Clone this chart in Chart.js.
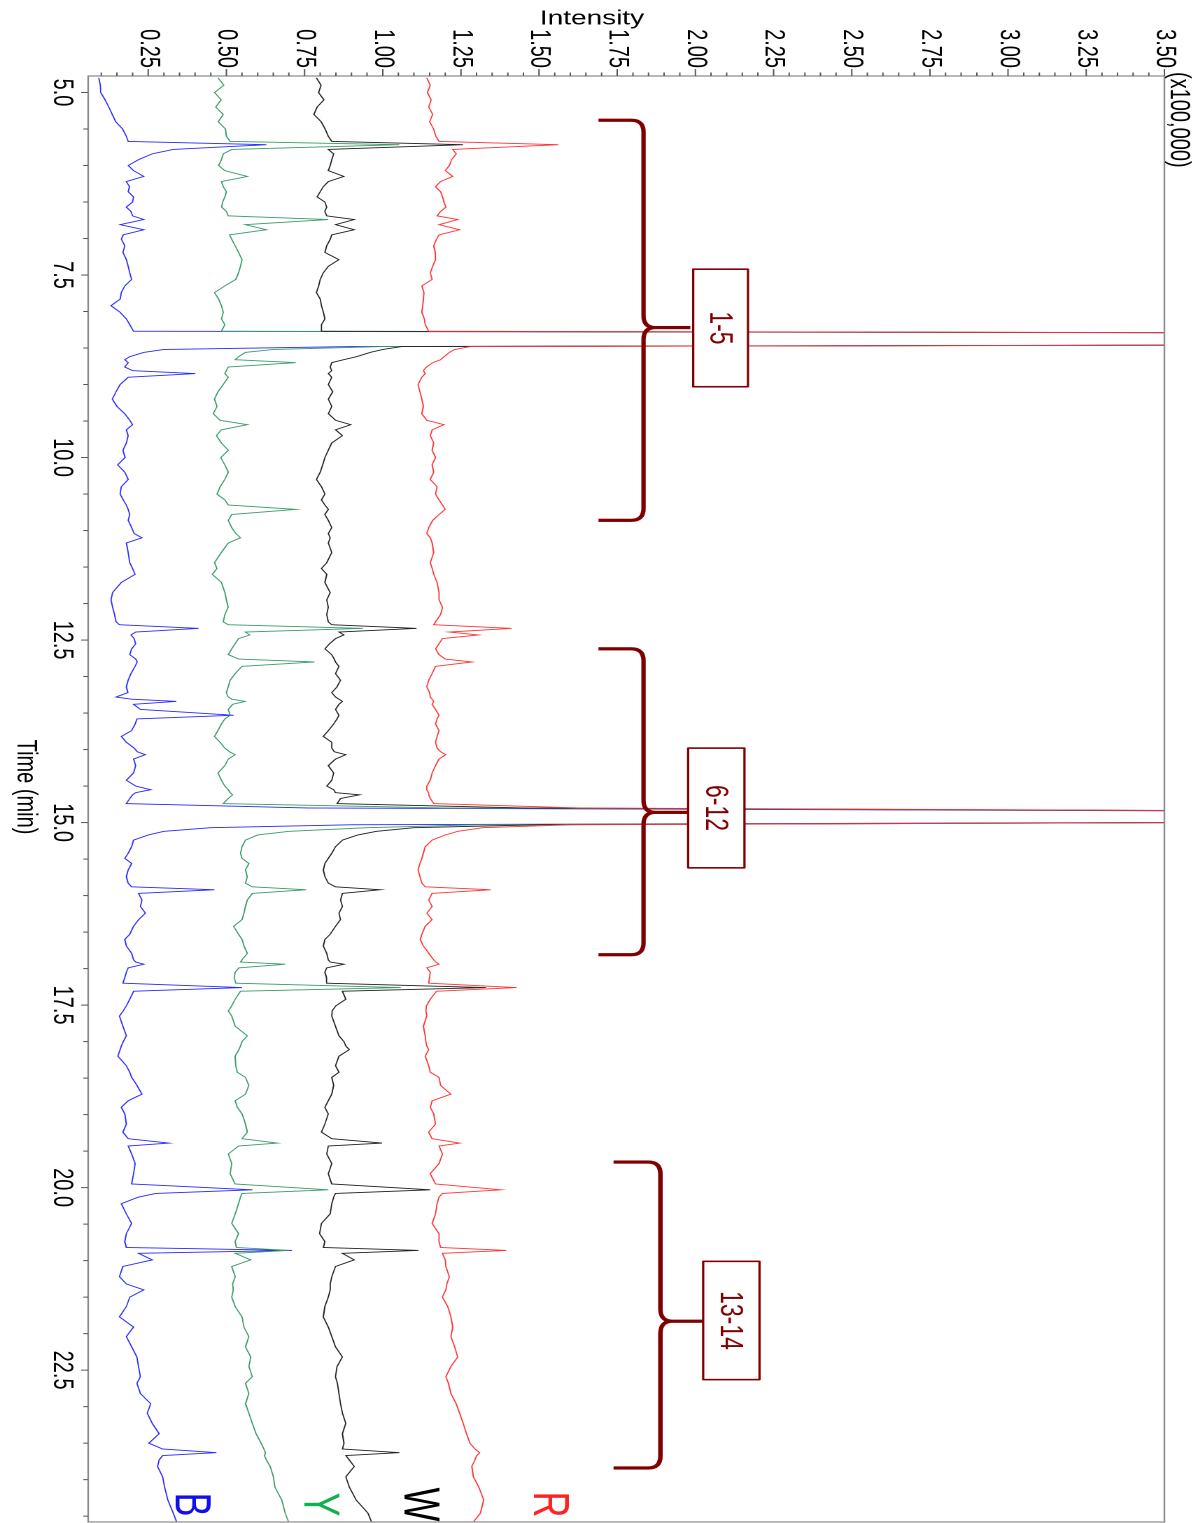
<!DOCTYPE html>
<html>
<head>
<meta charset="utf-8">
<script src="https://cdn.jsdelivr.net/npm/chart.js@4.4.0/dist/chart.umd.min.js"></script>
<style>
  html, body { margin: 0; padding: 0; background: #fff; overflow: hidden; }
  /* the chart is drawn landscape and then turned a quarter clockwise, stretched across */
  #wrap {
    position: absolute; left: 0; top: 0;
    width: 1523px; height: 856px;
    transform-origin: 0 0;
    transform: translate(1198px, 0) rotate(90deg) scale(1, 1.3995);
  }
</style>
</head>
<body>
<div id="wrap"><canvas id="chart" width="1523" height="856"></canvas></div>
<script>
// retention time (min)
const timeMin = [
  4.80, 4.90, 5.00, 5.10, 5.20, 5.30, 5.40, 5.50, 5.60, 5.67, 5.715, 5.78,
  5.84, 5.92, 6.00, 6.07, 6.15, 6.22, 6.29, 6.36, 6.43, 6.50, 6.57, 6.63,
  6.69, 6.74, 6.81, 6.88, 6.95, 7.01, 7.10, 7.19, 7.29, 7.38, 7.47, 7.56,
  7.65, 7.74, 7.83, 7.92, 8.01, 8.10, 8.18, 8.27, 8.30, 8.45, 8.48, 8.52,
  8.56, 8.62, 8.66, 8.70, 8.76, 8.81, 8.85, 8.90, 9.00, 9.10, 9.20, 9.30,
  9.40, 9.49, 9.55, 9.62, 9.70, 9.80, 9.90, 10.00, 10.10, 10.20, 10.30, 10.40,
  10.50, 10.58, 10.65, 10.71, 10.78, 10.86, 10.96, 11.04, 11.10, 11.17, 11.30, 11.44,
  11.52, 11.60, 11.71, 11.85, 11.95, 12.05, 12.15, 12.25, 12.29, 12.34, 12.39, 12.43,
  12.48, 12.55, 12.62, 12.70, 12.76, 12.80, 12.86, 12.96, 13.05, 13.14, 13.22, 13.28,
  13.31, 13.34, 13.38, 13.45, 13.53, 13.58, 13.65, 13.74, 13.82, 13.90, 13.98, 14.03,
  14.07, 14.13, 14.22, 14.32, 14.42, 14.50, 14.55, 14.59, 14.62, 14.67, 14.74, 14.80,
  14.86, 14.98, 15.03, 15.07, 15.12, 15.17, 15.24, 15.33, 15.42, 15.49, 15.56, 15.65,
  15.74, 15.83, 15.88, 15.92, 15.97, 16.06, 16.15, 16.24, 16.33, 16.42, 16.53, 16.60,
  16.69, 16.79, 16.88, 16.91, 16.94, 16.99, 17.05, 17.12, 17.20, 17.26, 17.31, 17.42,
  17.51, 17.58, 17.65, 17.79, 17.92, 18.00, 18.06, 18.11, 18.20, 18.33, 18.42, 18.49,
  18.60, 18.72, 18.81, 18.90, 18.99, 19.13, 19.24, 19.33, 19.39, 19.43, 19.54, 19.67,
  19.81, 19.95, 20.03, 20.08, 20.13, 20.22, 20.36, 20.49, 20.63, 20.74, 20.82, 20.86,
  20.90, 20.99, 21.08, 21.22, 21.32, 21.40, 21.50, 21.63, 21.77, 21.91, 22.04, 22.18,
  22.32, 22.45, 22.59, 22.68, 22.82, 22.96, 23.09, 23.23, 23.37, 23.50, 23.58, 23.63,
  23.67, 23.73, 23.82, 23.96, 24.10, 24.28, 24.46, 24.58
];

// intensity (x100,000) for each trace; 5 = off scale
const seriesR = [
  1.141, 1.152, 1.143, 1.155, 1.147, 1.160, 1.150, 1.163, 1.170, 1.180, 1.561, 1.224,
  1.235, 1.220, 1.213, 1.200, 1.224, 1.185, 1.169, 1.185, 1.191, 1.196, 1.202, 1.185,
  1.174, 1.240, 1.180, 1.246, 1.180, 1.172, 1.163, 1.168, 1.169, 1.160, 1.152, 1.158,
  1.125, 1.132, 1.130, 1.128, 1.125, 1.133, 1.136, 1.147, 5, 5, 1.280, 1.230,
  1.213, 1.196, 1.185, 1.160, 1.140, 1.130, 1.136, 1.125, 1.113, 1.119, 1.125, 1.130,
  1.125, 1.141, 1.196, 1.158, 1.152, 1.163, 1.158, 1.169, 1.158, 1.163, 1.152, 1.174,
  1.169, 1.180, 1.191, 1.200, 1.180, 1.160, 1.147, 1.141, 1.152, 1.158, 1.163, 1.152,
  1.158, 1.163, 1.174, 1.180, 1.180, 1.191, 1.185, 1.169, 1.163, 1.412, 1.213, 1.306,
  1.191, 1.180, 1.169, 1.180, 1.200, 1.285, 1.169, 1.158, 1.147, 1.141, 1.150, 1.152,
  1.158, 1.163, 1.158, 1.169, 1.180, 1.174, 1.169, 1.180, 1.174, 1.169, 1.174, 1.185,
  1.202, 1.180, 1.169, 1.158, 1.152, 1.141, 1.141, 1.147, 1.147, 1.152, 1.163, 1.630,
  5, 5, 1.600, 1.320, 1.240, 1.200, 1.158, 1.136, 1.130, 1.125, 1.119, 1.113,
  1.119, 1.125, 1.136, 1.345, 1.158, 1.147, 1.158, 1.141, 1.158, 1.136, 1.125, 1.120,
  1.130, 1.147, 1.163, 1.170, 1.180, 1.141, 1.152, 1.150, 1.147, 1.428, 1.172, 1.152,
  1.140, 1.138, 1.141, 1.130, 1.136, 1.138, 1.141, 1.147, 1.136, 1.147, 1.152, 1.180,
  1.185, 1.218, 1.158, 1.152, 1.163, 1.169, 1.147, 1.158, 1.246, 1.180, 1.191, 1.180,
  1.152, 1.169, 1.378, 1.191, 1.180, 1.174, 1.169, 1.158, 1.180, 1.180, 1.185, 1.395,
  1.191, 1.200, 1.202, 1.213, 1.205, 1.202, 1.191, 1.208, 1.218, 1.224, 1.218, 1.230,
  1.240, 1.218, 1.202, 1.210, 1.218, 1.235, 1.246, 1.257, 1.268, 1.279, 1.295, 1.310,
  1.301, 1.295, 1.285, 1.290, 1.307, 1.323, 1.312, 1.290
];
const seriesW = [
  0.788, 0.803, 0.795, 0.812, 0.790, 0.780, 0.803, 0.816, 0.826, 0.837, 1.257, 0.826,
  0.843, 0.837, 0.832, 0.826, 0.876, 0.826, 0.810, 0.800, 0.790, 0.815, 0.821, 0.815,
  0.821, 0.909, 0.849, 0.909, 0.837, 0.832, 0.821, 0.815, 0.860, 0.826, 0.810, 0.800,
  0.795, 0.788, 0.800, 0.804, 0.810, 0.815, 0.804, 0.804, 5, 5, 1.060, 1.000,
  0.960, 0.915, 0.875, 0.837, 0.832, 0.837, 0.826, 0.837, 0.826, 0.840, 0.826, 0.837,
  0.826, 0.849, 0.898, 0.849, 0.871, 0.837, 0.826, 0.815, 0.808, 0.800, 0.788, 0.804,
  0.815, 0.804, 0.815, 0.826, 0.815, 0.826, 0.837, 0.826, 0.832, 0.826, 0.837, 0.821,
  0.804, 0.821, 0.815, 0.832, 0.821, 0.826, 0.821, 0.826, 0.837, 1.108, 0.860, 0.876,
  0.849, 0.830, 0.815, 0.837, 0.845, 0.849, 0.860, 0.849, 0.865, 0.854, 0.837, 0.849,
  0.860, 0.871, 0.860, 0.849, 0.860, 0.854, 0.843, 0.826, 0.810, 0.837, 0.837, 0.845,
  0.882, 0.849, 0.826, 0.843, 0.837, 0.821, 0.843, 0.849, 0.926, 0.865, 0.854, 1.450,
  5, 5, 1.500, 1.100, 0.980, 0.920, 0.871, 0.849, 0.837, 0.826, 0.815, 0.810,
  0.815, 0.826, 0.849, 0.992, 0.871, 0.865, 0.871, 0.860, 0.865, 0.849, 0.832, 0.815,
  0.810, 0.821, 0.826, 0.832, 0.876, 0.821, 0.815, 0.820, 0.821, 1.330, 0.871, 0.882,
  0.850, 0.838, 0.837, 0.849, 0.860, 0.876, 0.882, 0.893, 0.860, 0.849, 0.860, 0.837,
  0.843, 0.837, 0.826, 0.815, 0.826, 0.815, 0.804, 0.837, 0.998, 0.826, 0.821, 0.837,
  0.826, 0.837, 1.152, 0.849, 0.843, 0.837, 0.832, 0.804, 0.798, 0.815, 0.810, 1.114,
  0.871, 0.909, 0.849, 0.837, 0.832, 0.832, 0.826, 0.815, 0.810, 0.826, 0.837, 0.849,
  0.871, 0.854, 0.849, 0.855, 0.860, 0.865, 0.871, 0.882, 0.871, 0.876, 0.871, 1.053,
  0.882, 0.893, 0.909, 0.882, 0.893, 0.915, 0.953, 0.964
];
const seriesY = [
  0.473, 0.492, 0.462, 0.483, 0.466, 0.490, 0.474, 0.497, 0.500, 0.512, 1.053, 0.517,
  0.490, 0.484, 0.475, 0.495, 0.567, 0.484, 0.490, 0.500, 0.495, 0.488, 0.485, 0.500,
  0.506, 0.826, 0.560, 0.628, 0.510, 0.517, 0.528, 0.539, 0.550, 0.545, 0.539, 0.530,
  0.495, 0.462, 0.475, 0.484, 0.490, 0.484, 0.495, 0.484, 5, 5, 1.000, 0.650,
  0.560, 0.539, 0.528, 0.722, 0.506, 0.500, 0.495, 0.506, 0.490, 0.473, 0.462, 0.470,
  0.458, 0.480, 0.567, 0.484, 0.468, 0.484, 0.506, 0.482, 0.495, 0.506, 0.495, 0.480,
  0.470, 0.495, 0.506, 0.722, 0.517, 0.506, 0.517, 0.530, 0.545, 0.506, 0.484, 0.462,
  0.470, 0.455, 0.484, 0.495, 0.500, 0.506, 0.495, 0.490, 0.506, 0.937, 0.561, 0.575,
  0.539, 0.528, 0.517, 0.506, 0.539, 0.782, 0.550, 0.528, 0.512, 0.506, 0.500, 0.506,
  0.517, 0.560, 0.520, 0.506, 0.512, 0.495, 0.484, 0.473, 0.462, 0.480, 0.495, 0.510,
  0.528, 0.506, 0.495, 0.473, 0.484, 0.495, 0.506, 0.512, 0.520, 0.506, 0.490, 1.200,
  5, 5, 1.300, 0.950, 0.700, 0.600, 0.561, 0.550, 0.545, 0.550, 0.572, 0.561,
  0.567, 0.561, 0.583, 0.755, 0.583, 0.567, 0.561, 0.556, 0.550, 0.523, 0.539, 0.550,
  0.556, 0.567, 0.550, 0.545, 0.688, 0.540, 0.528, 0.525, 0.530, 1.058, 0.545, 0.528,
  0.517, 0.506, 0.517, 0.528, 0.567, 0.550, 0.545, 0.540, 0.528, 0.530, 0.535, 0.561,
  0.572, 0.561, 0.528, 0.535, 0.550, 0.561, 0.567, 0.550, 0.663, 0.539, 0.506, 0.517,
  0.512, 0.528, 0.826, 0.550, 0.545, 0.539, 0.528, 0.517, 0.539, 0.528, 0.532, 0.700,
  0.528, 0.578, 0.517, 0.528, 0.520, 0.522, 0.517, 0.528, 0.550, 0.556, 0.572, 0.561,
  0.578, 0.572, 0.583, 0.561, 0.572, 0.561, 0.572, 0.583, 0.595, 0.611, 0.620, 0.625,
  0.622, 0.628, 0.640, 0.650, 0.655, 0.677, 0.688, 0.699
];
const seriesB = [
  0.092, 0.097, 0.098, 0.112, 0.124, 0.135, 0.146, 0.168, 0.180, 0.186, 0.628, 0.330,
  0.263, 0.219, 0.186, 0.203, 0.236, 0.180, 0.190, 0.186, 0.203, 0.200, 0.180, 0.195,
  0.200, 0.236, 0.160, 0.236, 0.170, 0.164, 0.175, 0.169, 0.180, 0.186, 0.191, 0.197,
  0.175, 0.164, 0.160, 0.131, 0.160, 0.180, 0.191, 0.203, 5, 5, 0.900, 0.300,
  0.236, 0.190, 0.175, 0.186, 0.175, 0.200, 0.401, 0.186, 0.160, 0.147, 0.135, 0.150,
  0.175, 0.191, 0.200, 0.180, 0.186, 0.180, 0.169, 0.176, 0.152, 0.175, 0.186, 0.164,
  0.160, 0.170, 0.180, 0.186, 0.191, 0.186, 0.197, 0.205, 0.230, 0.180, 0.186, 0.191,
  0.200, 0.208, 0.164, 0.136, 0.131, 0.136, 0.142, 0.147, 0.158, 0.411, 0.210, 0.195,
  0.205, 0.210, 0.197, 0.191, 0.210, 0.215, 0.208, 0.195, 0.186, 0.180, 0.185, 0.147,
  0.197, 0.340, 0.203, 0.225, 0.523, 0.214, 0.208, 0.197, 0.164, 0.180, 0.205, 0.215,
  0.241, 0.203, 0.210, 0.203, 0.180, 0.210, 0.258, 0.210, 0.200, 0.191, 0.180, 0.760,
  5, 5, 0.900, 0.450, 0.300, 0.250, 0.203, 0.197, 0.186, 0.175, 0.197, 0.186,
  0.180, 0.186, 0.197, 0.462, 0.219, 0.230, 0.225, 0.241, 0.219, 0.203, 0.191, 0.175,
  0.180, 0.197, 0.203, 0.210, 0.236, 0.186, 0.180, 0.175, 0.169, 0.550, 0.203, 0.191,
  0.180, 0.170, 0.158, 0.169, 0.180, 0.170, 0.164, 0.160, 0.153, 0.180, 0.191, 0.197,
  0.214, 0.230, 0.186, 0.164, 0.175, 0.180, 0.169, 0.186, 0.316, 0.186, 0.197, 0.208,
  0.203, 0.197, 0.583, 0.274, 0.219, 0.164, 0.180, 0.197, 0.180, 0.175, 0.180, 0.710,
  0.219, 0.263, 0.169, 0.158, 0.180, 0.236, 0.191, 0.180, 0.158, 0.203, 0.180, 0.197,
  0.214, 0.219, 0.225, 0.214, 0.225, 0.258, 0.247, 0.263, 0.285, 0.252, 0.296, 0.468,
  0.296, 0.285, 0.280, 0.296, 0.302, 0.313, 0.330, 0.341
];

const timeTicks = [5.0, 7.5, 10.0, 12.5, 15.0, 17.5, 20.0, 22.5];
const intensityTicks = [0.25, 0.50, 0.75, 1.00, 1.25, 1.50, 1.75, 2.00, 2.25, 2.50, 2.75, 3.00, 3.25, 3.50];

// peak groups: brace from/to/tip in minutes, end/spine/point in intensity, box edges
const peakGroups = [
  { label: '1-5',   from: 5.38,  to: 10.86, tip: 8.22,  end: 1.690, spine: 1.834, point: 1.984, box: [7.42, 9.03, 1.993, 2.168] },
  { label: '6-12',  from: 12.62, to: 16.81, tip: 14.86, end: 1.690, spine: 1.834, point: 1.977, box: [13.98, 15.62, 1.977, 2.157] },
  { label: '13-14', from: 19.65, to: 23.84, tip: 21.83, end: 1.738, spine: 1.888, point: 2.025, box: [21.01, 22.63, 2.025, 2.205] }
];

// trace names written at the end of each trace
const traceNames = [
  { text: 'R', color: '#ff2222', time: 24.34, level: 1.536 },
  { text: 'W', color: '#000000', time: 24.34, level: 1.123 },
  { text: 'Y', color: '#10b050', time: 24.34, level: 0.803 },
  { text: 'B', color: '#1010ee', time: 24.34, level: 0.391 }
];

const FONT = "'Liberation Sans', Arial, sans-serif";
Chart.defaults.font.family = FONT;

function pts(values) {
  return timeMin.map((t, i) => ({ x: t, y: values[i] }));
}

function drawBrace(ctx, g, x, y) {
  const u0 = x.getPixelForValue(g.from), u1 = x.getPixelForValue(g.to), um = x.getPixelForValue(g.tip);
  const vEnd = y.getPixelForValue(g.end), vSp = y.getPixelForValue(g.spine), vTip = y.getPixelForValue(g.point);
  const ru = 12, rv = 8.6;
  ctx.beginPath();
  ctx.moveTo(u0, vEnd);
  ctx.lineTo(u0, vSp + rv);
  ctx.quadraticCurveTo(u0, vSp, u0 + ru, vSp);
  ctx.lineTo(um - ru, vSp);
  ctx.quadraticCurveTo(um, vSp, um, vSp - rv);
  ctx.lineTo(um, vTip);
  ctx.moveTo(um, vSp - rv);
  ctx.quadraticCurveTo(um, vSp, um + ru, vSp);
  ctx.lineTo(u1 - ru, vSp);
  ctx.quadraticCurveTo(u1, vSp, u1, vSp + rv);
  ctx.lineTo(u1, vEnd);
  ctx.stroke();
}

const decorations = {
  id: 'decorations',
  afterDraw(chart) {
    const { ctx, chartArea: a, scales: { x, y } } = chart;
    ctx.save();

    // frame
    ctx.strokeStyle = '#8a8a8a';
    ctx.lineWidth = 1.2;
    ctx.strokeRect(a.left, a.top, a.right - a.left, a.bottom - a.top);

    // tick marks
    ctx.strokeStyle = '#555';
    ctx.lineWidth = 1;
    ctx.beginPath();
    for (let k = 10; k <= 49; k++) {
      const t = k * 0.5;
      const px = x.getPixelForValue(t);
      ctx.moveTo(px, a.bottom);
      ctx.lineTo(px, a.bottom + (k % 5 === 0 ? 5 : 3.5));
    }
    for (let k = 2; k <= 70; k++) {
      const py = y.getPixelForValue(k * 0.05);
      ctx.moveTo(a.left, py);
      ctx.lineTo(a.left - (k % 5 === 0 ? 7 : 3.5), py);
    }
    ctx.stroke();

    // braces and boxes
    ctx.strokeStyle = '#800000';
    ctx.lineJoin = 'round';
    peakGroups.forEach(g => {
      ctx.lineWidth = 3.2;
      drawBrace(ctx, g, x, y);
      const uA = x.getPixelForValue(g.box[0]), uB = x.getPixelForValue(g.box[1]);
      const vA = y.getPixelForValue(g.box[3]), vB = y.getPixelForValue(g.box[2]);
      ctx.fillStyle = '#fff';
      ctx.fillRect(uA, vA, uB - uA, vB - vA);
      ctx.lineWidth = 1.6;
      ctx.strokeRect(uA, vA, uB - uA, vB - vA);
      ctx.fillStyle = '#800000';
      ctx.font = '23px ' + FONT;
      ctx.textAlign = 'center';
      ctx.textBaseline = 'middle';
      ctx.fillText(g.label, (uA + uB) / 2, (vA + vB) / 2 + 1);
    });

    // trace names
    ctx.font = '36px ' + FONT;
    traceNames.forEach(n => {
      ctx.fillStyle = n.color;
      ctx.fillText(n.text, x.getPixelForValue(n.time), y.getPixelForValue(n.level) + 2);
    });

    // titles
    ctx.fillStyle = '#000';
    ctx.font = '20px ' + FONT;
    ctx.fillText('Time (min)', 787, 838);
    ctx.textAlign = 'left';
    ctx.fillText('(x100,000)', 72, 14);
    ctx.save();
    ctx.translate(19, 433);
    ctx.rotate(-Math.PI / 2);
    ctx.textAlign = 'center';
    ctx.fillText('Intensity', 0, 0);
    ctx.restore();

    ctx.restore();
  }
};

new Chart(document.getElementById('chart'), {
  type: 'line',
  data: {
    datasets: [
      { label: 'R', data: pts(seriesR), borderColor: '#ff3535' },
      { label: 'W', data: pts(seriesW), borderColor: '#222222' },
      { label: 'Y', data: pts(seriesY), borderColor: '#3a9c68' },
      { label: 'B', data: pts(seriesB), borderColor: '#2a2aff' }
    ]
  },
  options: {
    responsive: false,
    animation: false,
    devicePixelRatio: 2,
    layout: { padding: { top: 24, right: 1, left: 0, bottom: 0 } },
    elements: {
      line: { borderWidth: 0.9, tension: 0 },
      point: { radius: 0 }
    },
    plugins: { legend: { display: false }, tooltip: { enabled: false } },
    scales: {
      x: {
        type: 'linear',
        min: 4.774,
        max: 24.58,
        afterBuildTicks: s => { s.ticks = timeTicks.map(v => ({ value: v })); },
        afterFit: s => { s.height = 63; },
        grid: { drawOnChartArea: false, color: 'rgba(0,0,0,0)', tickLength: 5 },
        border: { display: false },
        ticks: {
          autoSkip: false, maxRotation: 0, minRotation: 0, padding: 2,
          color: '#000', font: { size: 20 },
          callback: v => Number(v).toFixed(1)
        }
      },
      y: {
        type: 'linear',
        min: 0.058,
        max: 3.5,
        afterBuildTicks: s => { s.ticks = intensityTicks.map(v => ({ value: v })); },
        afterFit: s => { s.width = 76; },
        grid: { drawOnChartArea: false, color: 'rgba(0,0,0,0)', tickLength: 7 },
        border: { display: false },
        ticks: {
          autoSkip: false, padding: 1,
          color: '#000', font: { size: 20 },
          callback: v => Number(v).toFixed(2)
        }
      }
    }
  },
  plugins: [decorations]
});
</script>
</body>
</html>
